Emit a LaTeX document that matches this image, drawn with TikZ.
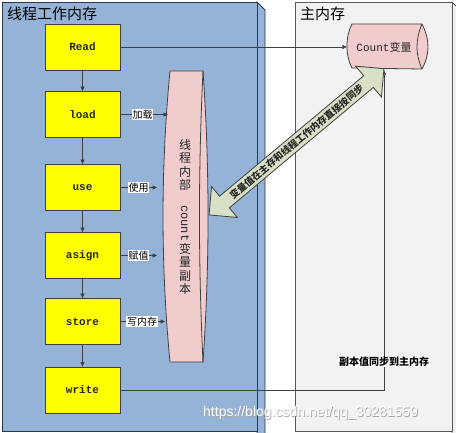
\documentclass[tikz,border=0pt]{standalone}
\usepackage{fontspec}
\setmainfont{Noto Sans CJK SC}
\setmonofont{Liberation Mono}
\newfontfamily\wmfont{Liberation Sans}
\usetikzlibrary{shapes.arrows,arrows.meta}
\definecolor{panelblue}{RGB}{149,179,215}
\definecolor{panelgray}{RGB}{242,242,242}
\definecolor{boxyellow}{RGB}{255,255,0}
\definecolor{copypink}{RGB}{240,204,204}
\definecolor{syncgreen}{RGB}{216,224,198}
\definecolor{linegray}{RGB}{64,64,64}
\definecolor{paneledge}{RGB}{45,55,70}
\begin{document}
\begin{tikzpicture}[x=1pt,y=-1pt,
  opbox/.style={draw=linegray, line width=0.8pt, fill=boxyellow, minimum width=75pt, minimum height=46pt, inner sep=0pt, text=black!85, font=\ttfamily\bfseries\fontsize{11}{13}\selectfont},
  conn/.style={draw=linegray, line width=0.7pt, -{Triangle[length=4.5pt,width=4pt]}},
  tag/.style={fill=white, inner sep=0.6pt, font=\fontsize{10}{12}\selectfont},
  paneltitle/.style={anchor=west, inner sep=0pt, font=\fontsize{15}{18}\selectfont},
  edgeline/.style={line width=0.8pt, draw=linegray}]

\useasboundingbox (0,0) rectangle (456,433);

% panels
\filldraw[fill=panelblue, draw=paneledge, line width=0.8pt] (257,2) -- (265,10) -- (265,440) -- (257,440) -- cycle;
\filldraw[fill=panelblue, draw=paneledge, line width=0.8pt] (2,2) rectangle (257,431);
\filldraw[fill=panelgray, draw=black!65, line width=0.8pt] (452,2) -- (460,10) -- (460,440) -- (452,440) -- cycle;
\filldraw[fill=panelgray, draw=black!65, line width=0.8pt] (295,2) rectangle (452,431);
\node[paneltitle] (tleft) at (7,14) {线程工作内存};
\node[paneltitle] (tright) at (300,14) {主内存};

% operation boxes
\node[opbox] (read)  at (82.5,47)    {Read};
\node[opbox] (load)  at (82.5,114.5) {load};
\node[opbox] (use)   at (82.5,187.5) {use};
\node[opbox] (asign) at (82.5,255.5) {asign};
\node[opbox] (store) at (82.5,321.5) {store};
\node[opbox] (write) at (82.5,390)   {write};
\draw[conn] (read) -- (load);
\draw[conn] (load) -- (use);
\draw[conn] (use) -- (asign);
\draw[conn] (asign) -- (store);
\draw[conn] (store) -- (write);

% thread-local copy
\filldraw[fill=copypink, edgeline] (170,71) -- (203,71) .. controls (209.7,168) and (209.7,265) .. (203,362) -- (170,362) .. controls (160.7,265) and (160.7,168) .. (170,71) -- cycle;
\draw[edgeline] (203,71) .. controls (198.3,168) and (198.3,265) .. (203,362);
\node[align=center, inner sep=0pt, text=black!85, font=\fontsize{12}{13.5}\selectfont] (copy) at (185,217)
  {线\\程\\内\\部\\[2pt]\rotatebox{-90}{\ttfamily count}\\[1pt]变\\量\\副\\本};

% main-memory variable
\filldraw[fill=copypink, edgeline] (352,24) -- (422,24) .. controls (430,40) and (430,54) .. (422,69) -- (352,68) .. controls (345.3,56) and (345.3,36) .. (352,24) -- cycle;
\draw[edgeline] (422,24) .. controls (415.3,40) and (415.3,54) .. (422,69);
\node[inner sep=0pt, minimum width=74pt, minimum height=46pt, text=black!85, font=\fontsize{11}{13}\selectfont] (count) at (384,47) {{\ttfamily Count}变量};

% connectors to the copy
\coordinate (loadtip)  at (168,114.5);
\coordinate (usetip)   at (157,187.5);
\coordinate (asigntip) at (157,255.5);
\coordinate (storetip) at (165,321.5);
\draw[conn] (load.east) -- (loadtip);
\draw[conn] (use.east) -- (usetip);
\draw[conn] (asign.east) -- (asigntip);
\draw[conn] (store.east) -- (storetip);
\node[tag] (lload)  at (142.5,114.5) {加载};
\node[tag] (luse)   at (138.5,187.5) {使用};
\node[tag] (lasign) at (138.5,255.5) {赋值};
\node[tag] (lstore) at (142,321.5)   {写内存};

% read and write with main memory
\draw[conn] (read.east) -- (count.west);
\draw[conn] (write.east) -| (count.south);
\node[tag, font=\bfseries\fontsize{10}{12}\selectfont] (lwrite) at (384,362) {副本值同步到主内存};

% synchronisation double arrow
\node[double arrow, draw=linegray, line width=0.8pt, fill=syncgreen, rotate=39.9,
  minimum height=228pt, double arrow head extend=12.5pt, inner xsep=0pt, inner ysep=2.6pt,
  text=black!85, font=\bfseries\fontsize{9.5}{11}\selectfont] (sync) at (296.5,141.8) {变量值在主存和线程工作内存直接按同步};

% watermark
\node[anchor=west, inner sep=0pt, text=black!35, font=\wmfont\fontsize{14}{16}\selectfont] (wmshadow) at (203.8,413.8) {https://blog.csdn.net/qq\_30281559};
\node[anchor=west, inner sep=0pt, text=white, font=\wmfont\fontsize{14}{16}\selectfont] (wm) at (203,413) {https://blog.csdn.net/qq\_30281559};
\end{tikzpicture}
\end{document}
